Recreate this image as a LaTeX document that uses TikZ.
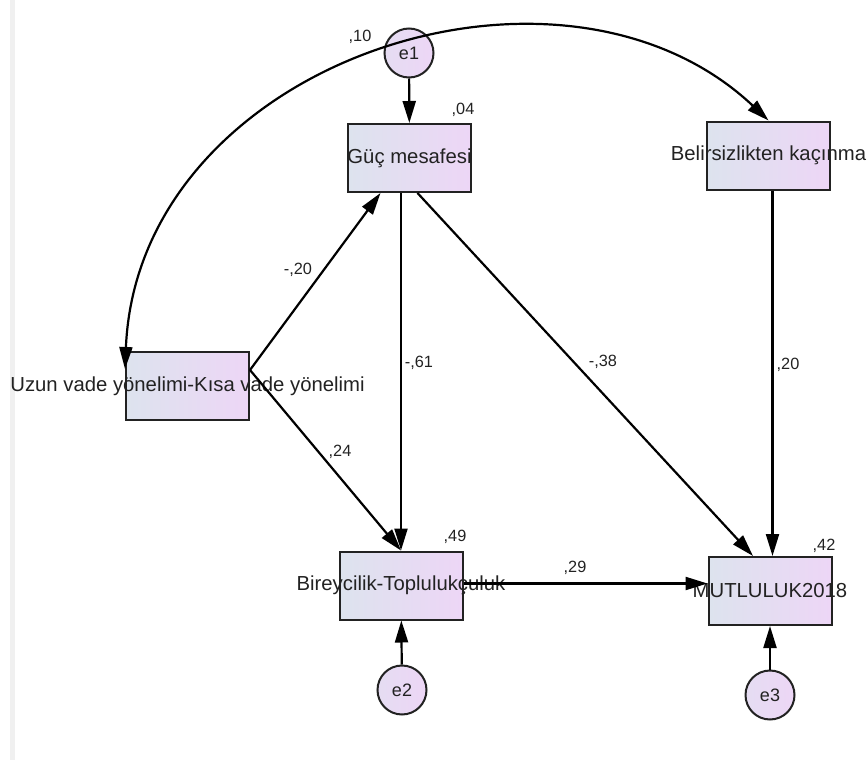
\documentclass[tikz,border=0pt]{standalone}
\usepackage{fontspec}
\setmainfont{Liberation Sans}
\usetikzlibrary{arrows.meta}
\definecolor{boxL}{RGB}{221,227,238}
\definecolor{boxR}{RGB}{237,214,246}
\definecolor{ink}{RGB}{34,34,34}
\begin{document}
\begin{tikzpicture}[x=1pt,y=-1pt,>={Triangle[length=22pt,width=13pt]},
	var/.style={draw=ink,line width=2pt,left color=boxL,right color=boxR,minimum width=123pt,minimum height=68pt,inner sep=0pt},
	vname/.style={font=\fontsize{20.3}{23}\selectfont,text=ink},
	err/.style={circle,draw=ink,line width=2pt,left color=boxL!50!boxR,right color=boxR,minimum size=49pt,inner sep=0pt,font=\fontsize{18}{21}\selectfont,text=ink},
	coef/.style={font=\fontsize{16.3}{19}\selectfont,text=ink},
	eff/.style={->,line width=2.2pt}]
	\useasboundingbox (0,0) rectangle (868,760);
	\fill[gray!12] (10,0) rectangle (15,760);
	% variables
	\node[var,label={[vname,name=tguc]center:Güç mesafesi}] (guc) at (409.5,158) {};
	\node[var,label={[vname,name=tbel]center:Belirsizlikten kaçınma}] (bel) at (768.5,155.5) {};
	\node[var,label={[vname,name=tuzun]center:Uzun vade yönelimi-Kısa vade yönelimi}] (uzun) at (187.5,386) {};
	\node[var,label={[vname,name=tbir]center:Bireycilik-Toplulukçuluk}] (bir) at (401,585.5) {};
	\node[var,label={[vname,name=tmut]center:MUTLULUK2018}] (mut) at (770,591) {};
	\node[err] (e1) at (409,53) {e1};
	\node[err] (e2) at (402,690) {e2};
	\node[err] (e3) at (770,695) {e3};
	% paths
	\draw[eff] (e1) -- (guc);
	\draw[eff] (e2) -- (bir);
	\draw[eff] (e3) -- (mut);
	\draw[eff] ([yshift=16pt]uzun.east) -- ([xshift=-29pt]guc.south);
	\draw[eff] ([yshift=16pt]uzun.east) -- (bir.north);
	\draw[eff] (bir.north |- guc.south) -- (bir.north);
	\draw[eff] ([xshift=8pt]guc.south) -- ([xshift=-17pt]mut.north);
	\draw[eff] ([xshift=4pt]bel.south) -- ([xshift=4pt]bel.south |- mut.north);
	\draw[eff] ([yshift=2pt]bir.east) -- ([yshift=2pt]bir.east -| mut.west);
	\draw[<->,line width=2.2pt] ([yshift=-18pt]uzun.north west) .. controls (138,62) and (560,-76) .. (bel.north);
	% estimates
	\node[coef] (c10) at (360,37) {,10};
	\node[coef] (c04) at (463,110) {,04};
	\node[coef] (c49) at (455,537) {,49};
	\node[coef] (c42) at (824,546) {,42};
	\node[coef] (c20a) at (298,270) {-,20};
	\node[coef] (c61) at (419,363) {-,61};
	\node[coef] (c38) at (603,362) {-,38};
	\node[coef] (c20b) at (788,365) {,20};
	\node[coef] (c24) at (340,452) {,24};
	\node[coef] (c29) at (575,568) {,29};
\end{tikzpicture}
\end{document}
